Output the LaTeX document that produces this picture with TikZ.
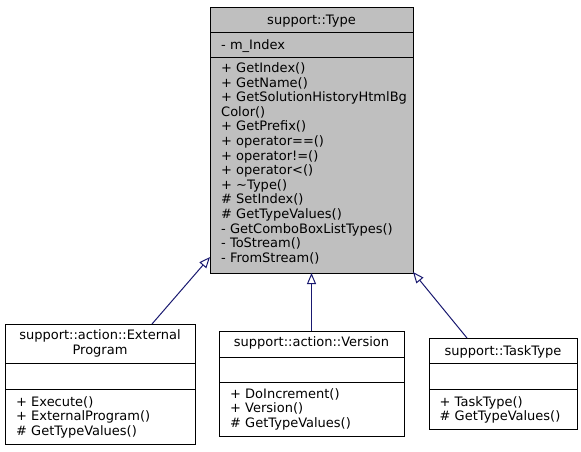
\documentclass[tikz,border=0pt]{standalone}
\usepackage{fontspec}
\setmainfont{DejaVu Sans}
\usetikzlibrary{arrows.meta}
\definecolor{edgeblue}{HTML}{191970}
\definecolor{boxgray}{HTML}{BFBFBF}
\begin{document}
\begin{tikzpicture}[x=1pt,y=-1pt,
  cls/.style={draw=black, line width=1pt, anchor=north west, inner sep=0pt, outer sep=0pt},
  sep/.style={draw=black, line width=1pt},
  txt/.style={anchor=base west, inner sep=0pt, font=\fontsize{13}{14.6}\selectfont},
  ttl/.style={anchor=base, inner sep=0pt, font=\fontsize{13}{14.6}\selectfont},
  inh/.style={draw=edgeblue, line width=1pt, -{Triangle[open, length=11pt, width=9pt, fill=white]}}]
\useasboundingbox (0,0) rectangle (581,451);
% main class
\node[cls, fill=boxgray, minimum width=203pt, minimum height=266pt] (main) at (210,7) {};
\draw[sep] ([yshift=-25pt]main.north west) -- ([yshift=-25pt]main.north east);
\draw[sep] ([yshift=-50pt]main.north west) -- ([yshift=-50pt]main.north east);
\node[ttl] (maint) at (311.5,24) {support::Type};
\node[txt] (mainattr) at (221,49) {- m\_Index};
\foreach [count=\i] \t in {+ GetIndex(), + GetName(), + GetSolutionHistoryHtmlBg, Color(), + GetPrefix(), + operator==(), + operator!=(), + operator<(), + \textasciitilde Type(), \# SetIndex(), \# GetTypeValues(), - GetComboBoxListTypes(), - ToStream(), - FromStream()}
  \node[txt] (mm\i) at (221,{72.5+14.6*(\i-1)}) {\t};
% ExternalProgram
\node[cls, fill=white, minimum width=190pt, minimum height=120pt] (ext) at (5,324) {};
\draw[sep] ([yshift=-39pt]ext.north west) -- ([yshift=-39pt]ext.north east);
\draw[sep] ([yshift=-65pt]ext.north west) -- ([yshift=-65pt]ext.north east);
\node[ttl] (extt1) at (100,339.5) {support::action::External};
\node[ttl] (extt2) at (100,354.5) {Program};
\node[txt] (ext1) at (16,406) {+ Execute()};
\node[txt] (ext2) at (16,420) {+ ExternalProgram()};
\node[txt] (ext3) at (16,435) {\# GetTypeValues()};
% Version
\node[cls, fill=white, minimum width=185pt, minimum height=105pt] (ver) at (219,331) {};
\draw[sep] ([yshift=-26pt]ver.north west) -- ([yshift=-26pt]ver.north east);
\draw[sep] ([yshift=-51pt]ver.north west) -- ([yshift=-51pt]ver.north east);
\node[ttl] (vert) at (311.5,346.8) {support::action::Version};
\node[txt] (ver1) at (230,398.5) {+ DoIncrement()};
\node[txt] (ver2) at (230,412.8) {+ Version()};
\node[txt] (ver3) at (230,427.5) {\# GetTypeValues()};
% TaskType
\node[cls, fill=white, minimum width=148pt, minimum height=91pt] (tt) at (429,338) {};
\draw[sep] ([yshift=-25pt]tt.north west) -- ([yshift=-25pt]tt.north east);
\draw[sep] ([yshift=-51pt]tt.north west) -- ([yshift=-51pt]tt.north east);
\node[ttl] (ttt) at (503,355.5) {support::TaskType};
\node[txt] (tt1) at (439.5,406) {+ TaskType()};
\node[txt] (tt2) at (439.5,420) {\# GetTypeValues()};
% inheritance
\draw[inh] ([xshift=52pt]ext.north) -- ([yshift=16pt]main.south west);
\draw[inh] (ver.north) -- (main.south);
\draw[inh] ([xshift=-36pt]tt.north) -- ([yshift=1pt]main.south east);
\end{tikzpicture}
\end{document}
